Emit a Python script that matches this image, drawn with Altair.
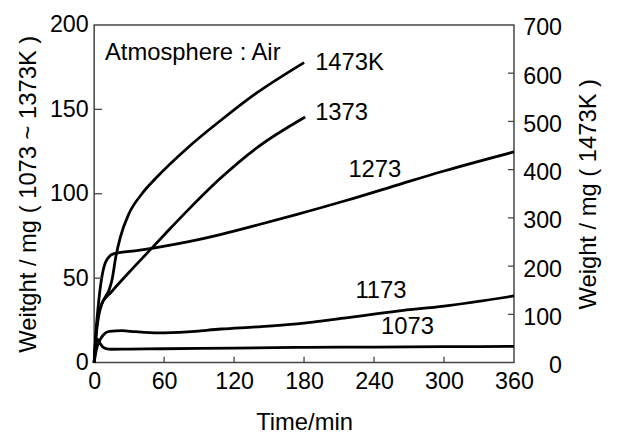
import altair as alt
import pandas as pd

# ---- data (time in min, weight in mg) ----
t_1073 = [0, 1, 2.5, 4.5, 7, 10, 15, 30, 60, 120, 180, 240, 300, 360]
w_1073 = [0, 8, 14, 12, 9.5, 8.3, 7.9, 8.0, 8.2, 8.6, 9.0, 9.2, 9.4, 9.6]

t_1173 = [0, 2, 4.2, 8, 13, 24, 35, 55, 80, 109, 140, 174, 216, 260, 300, 360]
w_1173 = [0, 8, 12.3, 16.5, 18.5, 18.9, 18.3, 17.6, 18.2, 19.9, 21.2, 23, 26.5, 30.5, 33.5, 39.5]

t_1273 = [0, 1, 2, 3, 4.5, 6, 7.5, 9.5, 12, 17, 38, 52, 80, 109, 140, 174, 216, 259, 300, 360]
w_1273 = [0, 12, 22, 30, 40, 48, 54, 59, 62, 64.5, 66.5, 68, 71.5, 76, 81.5, 87.8, 96, 105, 113.5, 124.8]

t_1373 = [0, 1, 2, 3, 5.7, 15, 30, 47, 64, 80, 108, 140, 181]
w_1373 = [0, 12, 20, 25.8, 33.6, 42, 53.5, 66, 78.5, 90, 109, 127.5, 145.5]

# 1473K is read on the right axis
t_1473 = [0, 2, 4, 7, 10, 12.7, 15.6, 18.4, 22.6, 29.7, 41, 52.4, 80, 109, 137, 180]
w_1473 = [0, 63, 98, 124, 138, 150, 175, 217, 261, 308, 350, 381, 445, 503, 555, 622]

label_text = ["Atmosphere : Air", "1473K", "1373", "1273", "1173", "1073"]
label_t = [9.3, 189.5, 189.5, 218, 224, 246]
label_w = [183.6, 177.7, 148.0, 113.8, 42.2, 21.1]

x_ticks = [0, 60, 120, 180, 240, 300, 360]
left_ticks = [0, 50, 100, 150, 200]
right_ticks = [0, 100, 200, 300, 400, 500, 600, 700]

FONT = "Liberation Sans"

rows = []
for name, ts, ws in [("1073", t_1073, w_1073), ("1173", t_1173, w_1173),
                     ("1273", t_1273, w_1273), ("1373", t_1373, w_1373)]:
    for t, w in zip(ts, ws):
        rows.append({"t": t, "w": w, "series": name})
df_left = pd.DataFrame(rows)
df_1473 = pd.DataFrame({"t": t_1473, "w": w_1473})
df_labels = pd.DataFrame({"t": label_t, "w": label_w, "label": label_text})
df_xt = pd.DataFrame({"t": x_ticks[1:-1]})
df_lt = pd.DataFrame({"w": left_ticks[1:-1]})
df_rt = pd.DataFrame({"w": right_ticks[1:-1]})

X = alt.X("t:Q", scale=alt.Scale(domain=[0, 360], nice=False, zero=False),
          axis=alt.Axis(values=x_ticks, title="Time/min", labelFlush=False,
                        labelPadding=7, titlePadding=18, orient="bottom"))
YL = alt.Y("w:Q", scale=alt.Scale(domain=[0, 200], nice=False),
           axis=alt.Axis(values=left_ticks, orient="left", labelFlush=False,
                         labelPadding=6, titlePadding=9,
                         title="Weitght / mg ( 1073 ~ 1373K )"))
YR = alt.Y("w:Q", scale=alt.Scale(domain=[0, 700], nice=False),
           axis=alt.Axis(values=right_ticks, orient="right", labelFlush=False,
                         labelAlign="right", labelPadding=48, labelOffset=3,
                         titlePadding=15, titleAngle=-90,
                         titleBaseline="top",
                         title="Weight / mg ( 1473K )"))

lines_left = alt.Chart(df_left).mark_line(
    color="black", strokeWidth=2.8, interpolate="monotone"
).encode(x=X, y=YL, detail="series:N")

texts = alt.Chart(df_labels).mark_text(
    align="left", baseline="middle", font=FONT, fontSize=24, color="black"
).encode(x=X, y=YL, text="label:N")

ticks_left = alt.Chart(df_lt).mark_rule(color="#444", strokeWidth=1.3).encode(
    y=YL, x=alt.value(0), x2=alt.value(8))
ticks_bottom = alt.Chart(df_xt).mark_rule(color="#444", strokeWidth=1.3).encode(
    x=X, y=alt.value(341), y2=alt.value(335))

left_group = alt.layer(lines_left, texts, ticks_left, ticks_bottom)

line_1473 = alt.Chart(df_1473).mark_line(
    color="black", strokeWidth=2.8, interpolate="monotone"
).encode(x=X, y=YR)
ticks_right = alt.Chart(df_rt).mark_rule(color="#444", strokeWidth=1.3).encode(
    y=YR, x=alt.value(424), x2=alt.value(418))
right_group = alt.layer(line_1473, ticks_right)

chart = alt.layer(left_group, right_group).resolve_scale(y="independent").properties(
    width=424, height=341,
    autosize=alt.AutoSizeParams(type="none"),
    padding={"left": 87, "top": 15, "right": 100, "bottom": 70},
    background="white",
).configure_view(
    stroke="#444", strokeWidth=1.5
).configure_axis(
    domain=False, ticks=False, grid=False,
    labelFont=FONT, labelFontSize=23.5, labelColor="black",
    titleFont=FONT, titleFontSize=24, titleFontWeight="normal", titleColor="black",
)

chart.save("out.html", embed_options={"renderer": "svg", "actions": False})
